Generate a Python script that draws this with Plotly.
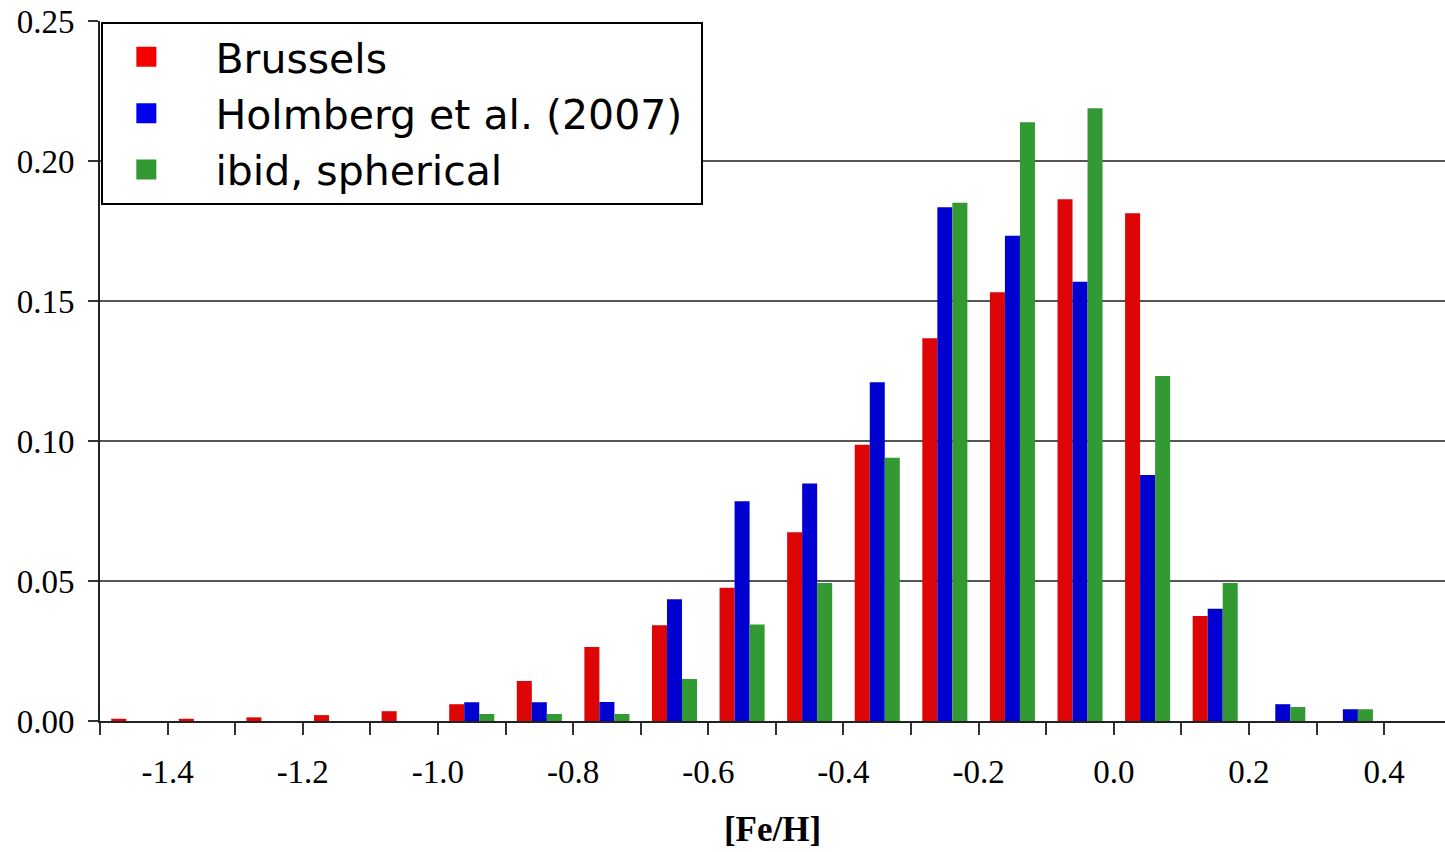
import plotly.graph_objects as go

bin_centers = [-1.45, -1.35, -1.25, -1.15, -1.05, -0.95, -0.85, -0.75, -0.65, -0.55,
               -0.45, -0.35, -0.25, -0.15, -0.05, 0.05, 0.15, 0.25, 0.35]
brussels = [0.0008, 0.0008, 0.0013, 0.0021, 0.0035, 0.0060, 0.0143, 0.0264, 0.0342, 0.0476,
            0.0674, 0.0987, 0.1367, 0.1531, 0.1863, 0.1813, 0.0375, 0.0, 0.0]
holmberg = [0.0, 0.0, 0.0, 0.0, 0.0, 0.0067, 0.0067, 0.0068, 0.0435, 0.0785,
            0.0848, 0.1210, 0.1835, 0.1733, 0.1569, 0.0879, 0.0401, 0.0060, 0.0042]
spherical = [0.0, 0.0, 0.0, 0.0, 0.0, 0.0025, 0.0025, 0.0025, 0.0150, 0.0345,
             0.0493, 0.0940, 0.1851, 0.2138, 0.2188, 0.1232, 0.0493, 0.0050, 0.0042]

series_names = ["Brussels", "Holmberg et al. (2007)", "ibid, spherical"]
colors = ["#DD0505", "#0000D0", "#339933"]
legend_colors = ["#F50000", "#0000F0", "#339933"]

x_tickvals = [-1.4, -1.2, -1.0, -0.8, -0.6, -0.4, -0.2, 0.0, 0.2, 0.4]
x_ticktext = ["-1.4", "-1.2", "-1.0", "-0.8", "-0.6", "-0.4", "-0.2", "0.0", "0.2", "0.4"]
y_tickvals = [0.0, 0.05, 0.10, 0.15, 0.20, 0.25]

fig = go.Figure()
for name, vals, col in zip(series_names, [brussels, holmberg, spherical], colors):
    fig.add_trace(go.Bar(x=bin_centers, y=vals, marker=dict(color=col, line=dict(width=0)),
                         showlegend=False, name=name))
for name, col in zip(series_names, legend_colors):
    label = "\u00a0\u00a0" + name + ("\u00a0" if name.startswith("Holmberg") else "")
    fig.add_trace(go.Scatter(x=[None], y=[None], mode="markers", name=label,
                             marker=dict(symbol="square", size=16, color=col,
                                         line=dict(color=col, width=4))))

serif = "Liberation Serif"
fig.update_layout(
    width=1445, height=852,
    margin=dict(l=100, r=0, t=21, b=131),
    paper_bgcolor="white", plot_bgcolor="white",
    barmode="group", bargap=1/3, bargroupgap=0,
    legend=dict(x=0.001, y=0.999, xanchor="left", yanchor="top",
                bgcolor="white", bordercolor="black", borderwidth=2,
                font=dict(family="DejaVu Sans", size=41, color="black"),
                itemwidth=76),
    xaxis=dict(range=[-1.5, 0.49], tickvals=x_tickvals, ticktext=x_ticktext,
               ticks="outside", ticklen=12, tickwidth=2, tickcolor="#333",
               showgrid=False, zeroline=False, showline=True, linecolor="#222", linewidth=2,
               tickfont=dict(family=serif, size=33, color="black"),
               ticklabelstandoff=8,
               minor=dict(tick0=-1.5, dtick=0.1, ticks="outside", ticklen=12, tickwidth=2,
                          tickcolor="#333", showgrid=False),
               title=dict(text="<b>[Fe/H]</b>", font=dict(family=serif, size=35, color="black"),
                          standoff=28)),
    yaxis=dict(range=[0, 0.25], tickvals=y_tickvals, tickformat=".2f",
               ticks="outside", ticklen=10, tickwidth=2, tickcolor="#333",
               showgrid=True, gridcolor="#555", gridwidth=1.5,
               zeroline=False, showline=True, linecolor="#222", linewidth=2,
               tickfont=dict(family=serif, size=33, color="black"),
               ticklabelstandoff=7),
)

fig.write_html("out.html", config={"displayModeBar": False},
               post_script="document.body.style.margin='0px';")
